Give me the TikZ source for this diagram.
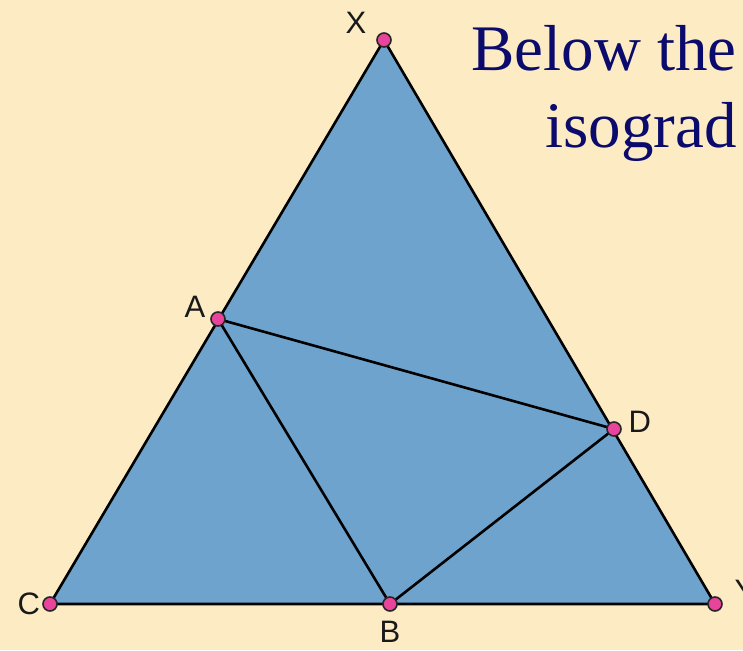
\documentclass[tikz,border=0pt]{standalone}
\usepackage{fontspec}
\setmainfont{Liberation Serif}
\newfontfamily\labelfont{Liberation Sans}
\usepackage{xcolor}
\definecolor{paper}{HTML}{FCEBC3}
\definecolor{fieldblue}{HTML}{6EA3CD}
\definecolor{dotpink}{HTML}{E8449C}
\definecolor{navy}{HTML}{0B0B6E}
\usetikzlibrary{positioning}

\begin{document}
\begin{tikzpicture}[x=1pt,y=-1pt,
  dot/.style={circle,draw=black!85,fill=dotpink,line width=1.6pt,inner sep=0pt,minimum size=14pt},
  lbl/.style={font=\labelfont\fontsize{31}{31}\selectfont,inner sep=0pt,text=black!90}]
  \clip (0,0) rectangle (743,650);
  \fill[paper] (0,0) rectangle (743,650);
  % sommets du triangle
  \coordinate (X) at (384,40);
  \coordinate (C) at (50,604);
  \coordinate (Y) at (715,604);
  \coordinate (A) at (218,319);
  \coordinate (B) at (390,604);
  \coordinate (D) at (614,429);
  \fill[fieldblue] (X) -- (C) -- (Y) -- cycle;
  \draw[line width=2.6pt,line join=round] (X) -- (C) -- (Y) -- cycle;
  \draw[line width=2.6pt] (A) -- (D) (A) -- (B) -- (D);
  \foreach \p in {X,C,Y,A,B,D} \node[dot] (d\p) at (\p) {};
  % etiquettes
  \node[lbl,above left=1pt and 12pt of dX] (lX) {X};
  \node[lbl,above left=-4pt and 7pt of dA] (lA) {A};
  \node[lbl,above right=-9pt and 9pt of dD] (lD) {D};
  \node[lbl,above right=-3pt and 14pt of dY] (lY) {Y};
  \node[lbl,left=2pt of dC] (lC) {C};
  \node[lbl,below=9pt of dB] (lB) {B};
  % titre
  \node[anchor=base east,text=navy,font=\fontsize{65}{65}\selectfont,inner sep=0pt] (title1) at (737,71) {Below the};
  \node[anchor=base east,text=navy,font=\fontsize{65}{65}\selectfont,inner sep=0pt] (title2) at (737,147) {isograd};
\end{tikzpicture}
\end{document}
